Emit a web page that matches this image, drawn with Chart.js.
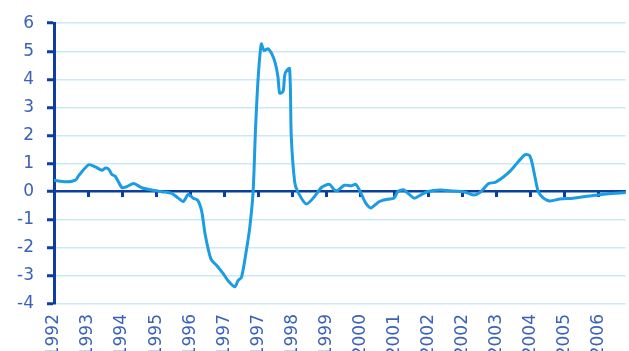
<!DOCTYPE html>
<html>
<head>
<meta charset="utf-8">
<script src="https://cdn.jsdelivr.net/npm/chart.js@4"></script>
<style>
  html, body { margin: 0; padding: 0; background: #fff; }
  #wrap { width: 629px; height: 351px; }
</style>
</head>
<body>
<div id="wrap"><canvas id="spreadChart"></canvas></div>
<script>
// tick labels along the bottom (one per year mark)
const yearLabels = ['1992', '1993', '1994', '1995', '1996', '1997', '1997', '1998', '1999',
  '2000', '2001', '2002', '2002', '2003', '2004', '2005', '2006'];

// position of each reading, measured in year marks from the first one
const tPos = [0, 0.34, 0.63, 0.73, 1.02, 1.22, 1.41, 1.51, 1.61, 1.7, 1.8, 2.0, 2.15, 2.34, 2.58,
  2.87, 3.17, 3.46, 3.65, 3.8, 3.95, 4.09, 4.22, 4.34, 4.44, 4.61, 4.78, 4.97, 5.12, 5.31,
  5.41, 5.51, 5.65, 5.75, 5.85, 5.92, 6.0, 6.09, 6.17, 6.29, 6.4, 6.5, 6.58, 6.63, 6.73,
  6.79, 6.92, 6.97, 7.07, 7.16, 7.41, 7.65, 7.85, 8.09, 8.24, 8.33, 8.53, 8.73, 8.87, 9.02,
  9.16, 9.31, 9.56, 9.8, 9.99, 10.1, 10.28, 10.58, 10.77, 10.96, 11.35, 11.74, 12.04,
  12.33, 12.52, 12.77, 12.96, 13.21, 13.4, 13.55, 13.7, 13.84, 13.97, 14.04, 14.14, 14.23,
  14.38, 14.57, 14.86, 15.25, 15.74, 16.23, 16.8];

// spread values
const spread = [0.41, 0.35, 0.41, 0.58, 0.96, 0.88, 0.76, 0.84, 0.8, 0.61, 0.55, 0.14, 0.19, 0.29, 0.14,
  0.06, 0.0, -0.06, -0.23, -0.35, -0.09, -0.23, -0.3, -0.7, -1.52, -2.4, -2.63, -2.92, -3.18, -3.39,
  -3.16, -3.04, -2.1, -1.29, 0.0, 2.22, 4.09, 5.26, 5.03, 5.09, 4.91, 4.58, 4.09, 3.51, 3.57,
  4.21, 4.39, 1.99, 0.35, 0.0, -0.44, -0.18, 0.14, 0.26, 0.06, 0.04, 0.23, 0.21, 0.26, -0.06,
  -0.41, -0.58, -0.35, -0.27, -0.23, 0.0, 0.06, -0.23, -0.12, 0.0, 0.06, 0.02, 0.0,
  -0.12, -0.02, 0.29, 0.33, 0.53, 0.73, 0.94, 1.15, 1.32, 1.29, 1.05, 0.47, 0.0,
  -0.23, -0.33, -0.26, -0.23, -0.15, -0.08, -0.03];

const navy = '#0b3e9e';
const labelBlue = '#3b62b8';
const gridBlue = '#cbe9f8';
const lineBlue = '#1c9ce2';

Chart.defaults.font.family = "'DejaVu Sans', sans-serif";

const ctx = document.getElementById('spreadChart').getContext('2d');
new Chart(ctx, {
  type: 'line',
  data: {
    datasets: [{
      data: tPos.map((t, i) => ({ x: t, y: spread[i] })),
      borderColor: lineBlue,
      borderWidth: 3,
      pointRadius: 0,
      tension: 0.25,
      fill: false
    }]
  },
  options: {
    responsive: true,
    maintainAspectRatio: false,
    animation: false,
    layout: { padding: { top: 19, right: 0, left: 0, bottom: 0 } },
    plugins: {
      legend: { display: false },
      tooltip: { enabled: false }
    },
    scales: {
      x: {
        type: 'linear',
        min: 0,
        max: 16.8,
        position: 'bottom',
        border: { display: false },
        grid: { display: false, drawTicks: false },
        afterFit: scale => { scale.height = 47; },
        ticks: {
          stepSize: 1,
          includeBounds: false,
          autoSkip: false,
          maxRotation: 90,
          minRotation: 90,
          padding: 10,
          color: labelBlue,
          font: { size: 17 },
          callback: value => yearLabels[value] ?? ''
        }
      },
      xZero: {
        type: 'linear',
        min: 0,
        max: 16.8,
        position: { y: 0 },
        border: { display: false },
        grid: {
          drawOnChartArea: false,
          tickLength: 5,
          tickWidth: 3,
          tickColor: navy
        },
        ticks: { stepSize: 1, includeBounds: false, display: false }
      },
      y: {
        min: -4,
        max: 6,
        border: { color: navy, width: 3 },
        afterFit: scale => { scale.width = 54; },
        grid: {
          color: c => c.tick && c.tick.value === 0 ? navy : gridBlue,
          lineWidth: c => c.tick && c.tick.value === 0 ? 2.5 : 1.5,
          tickColor: navy,
          tickLength: 7,
          tickWidth: 3
        },
        ticks: {
          stepSize: 1,
          padding: 13,
          color: labelBlue,
          font: { size: 17 }
        }
      }
    }
  }
});
</script>
</body>
</html>
